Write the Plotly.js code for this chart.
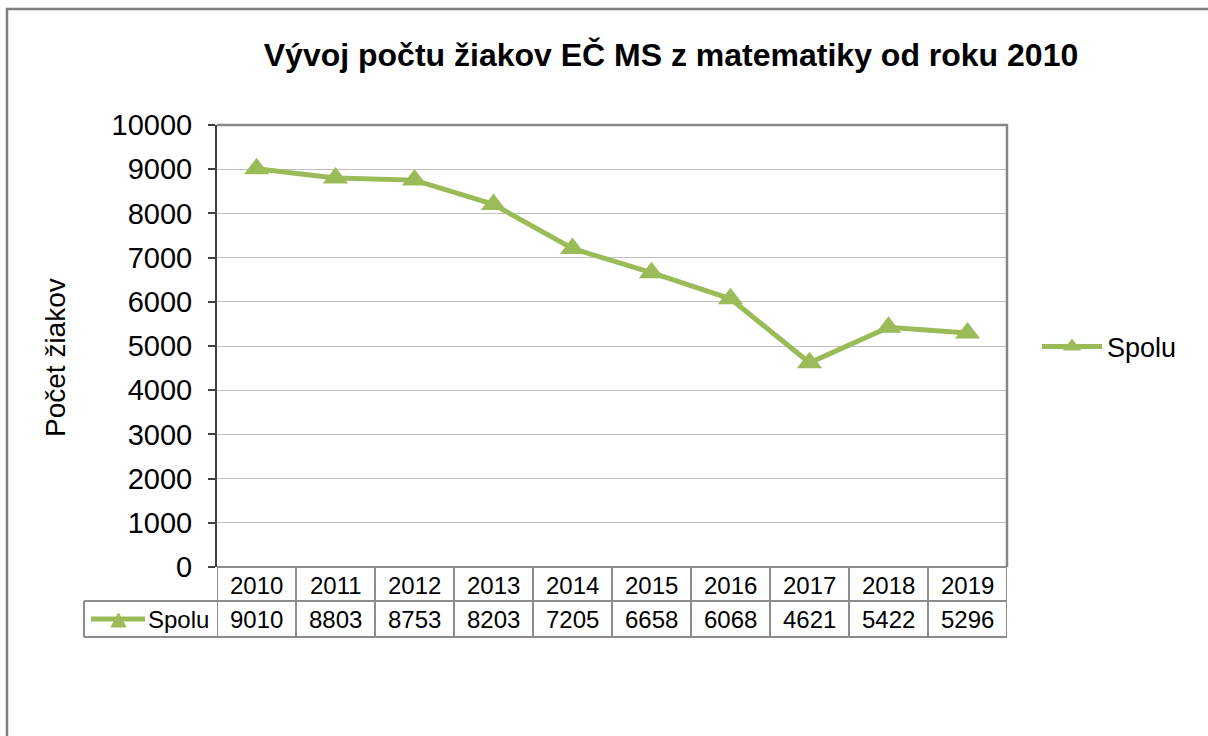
<!DOCTYPE html>
<html>
<head>
<meta charset="utf-8">
<script src="https://cdn.plot.ly/plotly-3.0.1.min.js"></script>
<style>html,body{margin:0;padding:0;background:#fff;}#chart{width:1208px;height:736px;}</style>
</head>
<body>
<div id="chart"></div>
<script>
// ---- data ----
const years = ["2010","2011","2012","2013","2014","2015","2016","2017","2018","2019"];
const spolu = [9010, 8803, 8753, 8203, 7205, 6658, 6068, 4621, 5422, 5296];
const seriesName = "Spolu";
const chartTitle = "Vývoj počtu žiakov EČ MS z matematiky od roku 2010";
const yTitle = "Počet žiakov";

// ---- layout helpers (pixel -> paper) ----
const L = 217, R = 1007, T = 125, B = 567, W = 1208, H = 736;
const px = v => (v - L) / (R - L);
const py = v => (B - v) / (B - T);

const green = "#9BBB59";
const gridGray = "#8c8c8c";
const font = "Liberation Sans, Arial, sans-serif";

const shapes = [];
const annotations = [];

// outer frame (left + top)
shapes.push({type:"path", xref:"paper", yref:"paper",
  path:`M ${px(7)} ${py(745)} L ${px(7)} ${py(9)} L ${px(1215)} ${py(9)}`,
  line:{color:"#808080", width:2.5}});
// plot area top/right border
shapes.push({type:"path", xref:"paper", yref:"paper",
  path:`M 0 1 L 1 1 L 1 0`, line:{color:"#868686", width:2.5}});

// data table lines
const rowMid = py(601), rowBot = py(637), keyLeft = px(84);
shapes.push({type:"line", xref:"paper", yref:"paper", x0:0, x1:1, y0:0, y1:0, line:{color:gridGray, width:2}});
shapes.push({type:"line", xref:"paper", yref:"paper", x0:keyLeft, x1:1, y0:rowMid, y1:rowMid, line:{color:gridGray, width:2}});
shapes.push({type:"line", xref:"paper", yref:"paper", x0:keyLeft, x1:1, y0:rowBot, y1:rowBot, line:{color:gridGray, width:2}});
shapes.push({type:"line", xref:"paper", yref:"paper", x0:keyLeft, x1:keyLeft, y0:rowMid, y1:rowBot, line:{color:gridGray, width:2}});
for (let k = 0; k <= years.length; k++) {
  shapes.push({type:"line", xref:"x", yref:"paper", x0:k-0.5, x1:k-0.5, y0:0, y1:rowBot, line:{color:gridGray, width:2}});
}
// legend key inside table
shapes.push({type:"line", xref:"paper", yref:"paper", x0:px(91), x1:px(145), y0:py(619), y1:py(619), line:{color:green, width:5}});
shapes.push({type:"path", xref:"paper", yref:"paper",
  path:`M ${px(111)} ${py(627)} L ${px(126)} ${py(627)} L ${px(118.5)} ${py(613)} Z`,
  fillcolor:green, line:{color:green, width:1}});

// table values
years.forEach((y, i) => {
  annotations.push({xref:"x", yref:"paper", x:i, y:py(585), text:y, showarrow:false,
    xanchor:"center", yanchor:"middle", font:{family:font, size:24, color:"#000"}});
  annotations.push({xref:"x", yref:"paper", x:i, y:py(619), text:String(spolu[i]), showarrow:false,
    xanchor:"center", yanchor:"middle", font:{family:font, size:24, color:"#000"}});
});
annotations.push({xref:"paper", yref:"paper", x:px(211), y:py(619), text:seriesName, showarrow:false,
  xanchor:"right", yanchor:"middle", font:{family:font, size:24, color:"#000"}});
// y axis title
annotations.push({xref:"paper", yref:"paper", x:px(55), y:py(358), text:yTitle, showarrow:false,
  textangle:-90, xanchor:"center", yanchor:"middle", font:{family:font, size:28, color:"#000"}});

const trace = {
  type:"scatter", mode:"lines+markers", name:seriesName,
  x: years, y: spolu,
  line:{color:green, width:5},
  marker:{symbol:"triangle-up", size:22, color:green},
  cliponaxis:false
};

const layout = {
  width:W, height:H,
  margin:{l:L, r:W-R, t:T, b:H-B, autoexpand:false},
  paper_bgcolor:"#fff", plot_bgcolor:"#fff",
  font:{family:font, color:"#000"},
  title:{text:"<b>"+chartTitle+"</b>", xref:"container", yref:"container",
    x:671/W, y:1-55/H, xanchor:"center", yanchor:"middle",
    font:{family:font, size:32, color:"#000"}},
  xaxis:{type:"category", range:[-0.5, years.length-0.5], showticklabels:false,
    ticks:"", showgrid:false, zeroline:false, showline:false, fixedrange:true},
  yaxis:{range:[0,10000], dtick:1000, tick0:0, tickformat:"d", ticks:"outside", ticklen:7, tickwidth:2,
    tickcolor:"#404040", showline:true, linecolor:"#404040", linewidth:2,
    gridcolor:"#c0c0c0", gridwidth:1, zeroline:false, ticklabelstandoff:10,
    tickfont:{family:font, size:29, color:"#000"}, fixedrange:true},
  showlegend:true,
  legend:{x:px(1037), y:py(347), xanchor:"left", yanchor:"middle", xref:"paper", yref:"paper",
    itemwidth:60, font:{family:font, size:27, color:"#000"}, bgcolor:"rgba(0,0,0,0)"},
  shapes:shapes, annotations:annotations
};

Plotly.newPlot("chart", [trace], layout, {displayModeBar:false, staticPlot:true});
</script>
</body>
</html>
